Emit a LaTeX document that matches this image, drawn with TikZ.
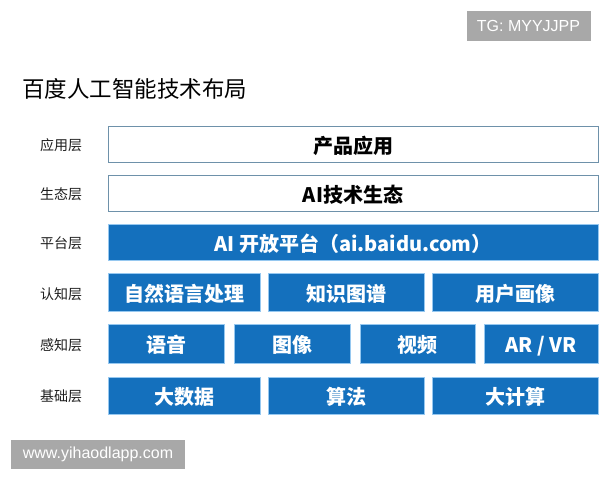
\documentclass[tikz,border=0pt]{standalone}
\usepackage{fontspec}
\newfontfamily\cjk{Noto Sans CJK SC}
\newfontfamily\wmfont{Liberation Sans}
\definecolor{boxblue}{RGB}{20,112,189}
\definecolor{boxedge}{RGB}{150,200,240}
\definecolor{whiteedge}{RGB}{110,145,170}
\definecolor{wmgray}{RGB}{168,168,168}
\definecolor{labelc}{RGB}{30,30,30}
\tikzset{
  x=1pt, y=-1pt,
  boxtext/.style={inner sep=0pt, text height=21pt, text depth=3pt,
    font=\cjk\bfseries\fontsize{20}{24}\selectfont},
  bluebox/.style={rectangle, boxtext, fill=boxblue, draw=boxedge, line width=0.8pt, text=white},
  whitebox/.style={rectangle, boxtext, fill=white, draw=whiteedge, line width=1pt, text=black},
  layerlabel/.style={text=labelc, font=\cjk\fontsize{14}{16}\selectfont, inner sep=0pt},
  wmbox/.style={rectangle, fill=wmgray, text=white, inner sep=0pt, font=\wmfont\fontsize{16}{18}\selectfont},
}
\begin{document}
\begin{tikzpicture}
\useasboundingbox (0,0) rectangle (600,480);
\fill[white] (0,0) rectangle (600,480);

% watermarks
\node[wmbox, minimum width=124, minimum height=30] (tg) at (528.5,25.5) {TG: MYYJJPP};
\node[wmbox, minimum width=174, minimum height=29] (www) at (98,454.5) {www.yihaodlapp.com};

% title
\node[font=\cjk\fontsize{22.5}{26}\selectfont, inner sep=0pt, anchor=west] (title) at (22,89) {百度人工智能技术布局};

% layer labels
\node[layerlabel] (l1) at (61,145) {应用层};
\node[layerlabel] (l2) at (61,194) {生态层};
\node[layerlabel] (l3) at (61,243) {平台层};
\node[layerlabel] (l4) at (61,294) {认知层};
\node[layerlabel] (l5) at (61,345) {感知层};
\node[layerlabel] (l6) at (61,396) {基础层};

% row 1-3
\node[whitebox, minimum width=490, minimum height=36] (app) at (353,144) {产品应用};
\node[whitebox, minimum width=490, minimum height=36] (eco) at (353,193) {AI技术生态};
\node[bluebox, minimum width=490, minimum height=36] (plat) at (353,242) {AI 开放平台（ai.baidu.com）};

% row 4
\node[bluebox, minimum width=152, minimum height=38] (nlp) at (184,292) {自然语言处理};
\node[bluebox, minimum width=156, minimum height=38] (kg) at (346,292) {知识图谱};
\node[bluebox, minimum width=166, minimum height=38] (up) at (515,292) {用户画像};

% row 5
\node[bluebox, minimum width=116, minimum height=39] (speech) at (166,343.5) {语音};
\node[bluebox, minimum width=116, minimum height=39] (image) at (292,343.5) {图像};
\node[bluebox, minimum width=115, minimum height=39] (video) at (417.5,343.5) {视频};
\node[bluebox, minimum width=114, minimum height=39] (arvr) at (541,343.5) {AR / VR};

% row 6
\node[bluebox, minimum width=152, minimum height=37] (bigdata) at (184,395.5) {大数据};
\node[bluebox, minimum width=156, minimum height=37] (algo) at (346,395.5) {算法};
\node[bluebox, minimum width=166, minimum height=37] (comp) at (515,395.5) {大计算};
\end{tikzpicture}
\end{document}
